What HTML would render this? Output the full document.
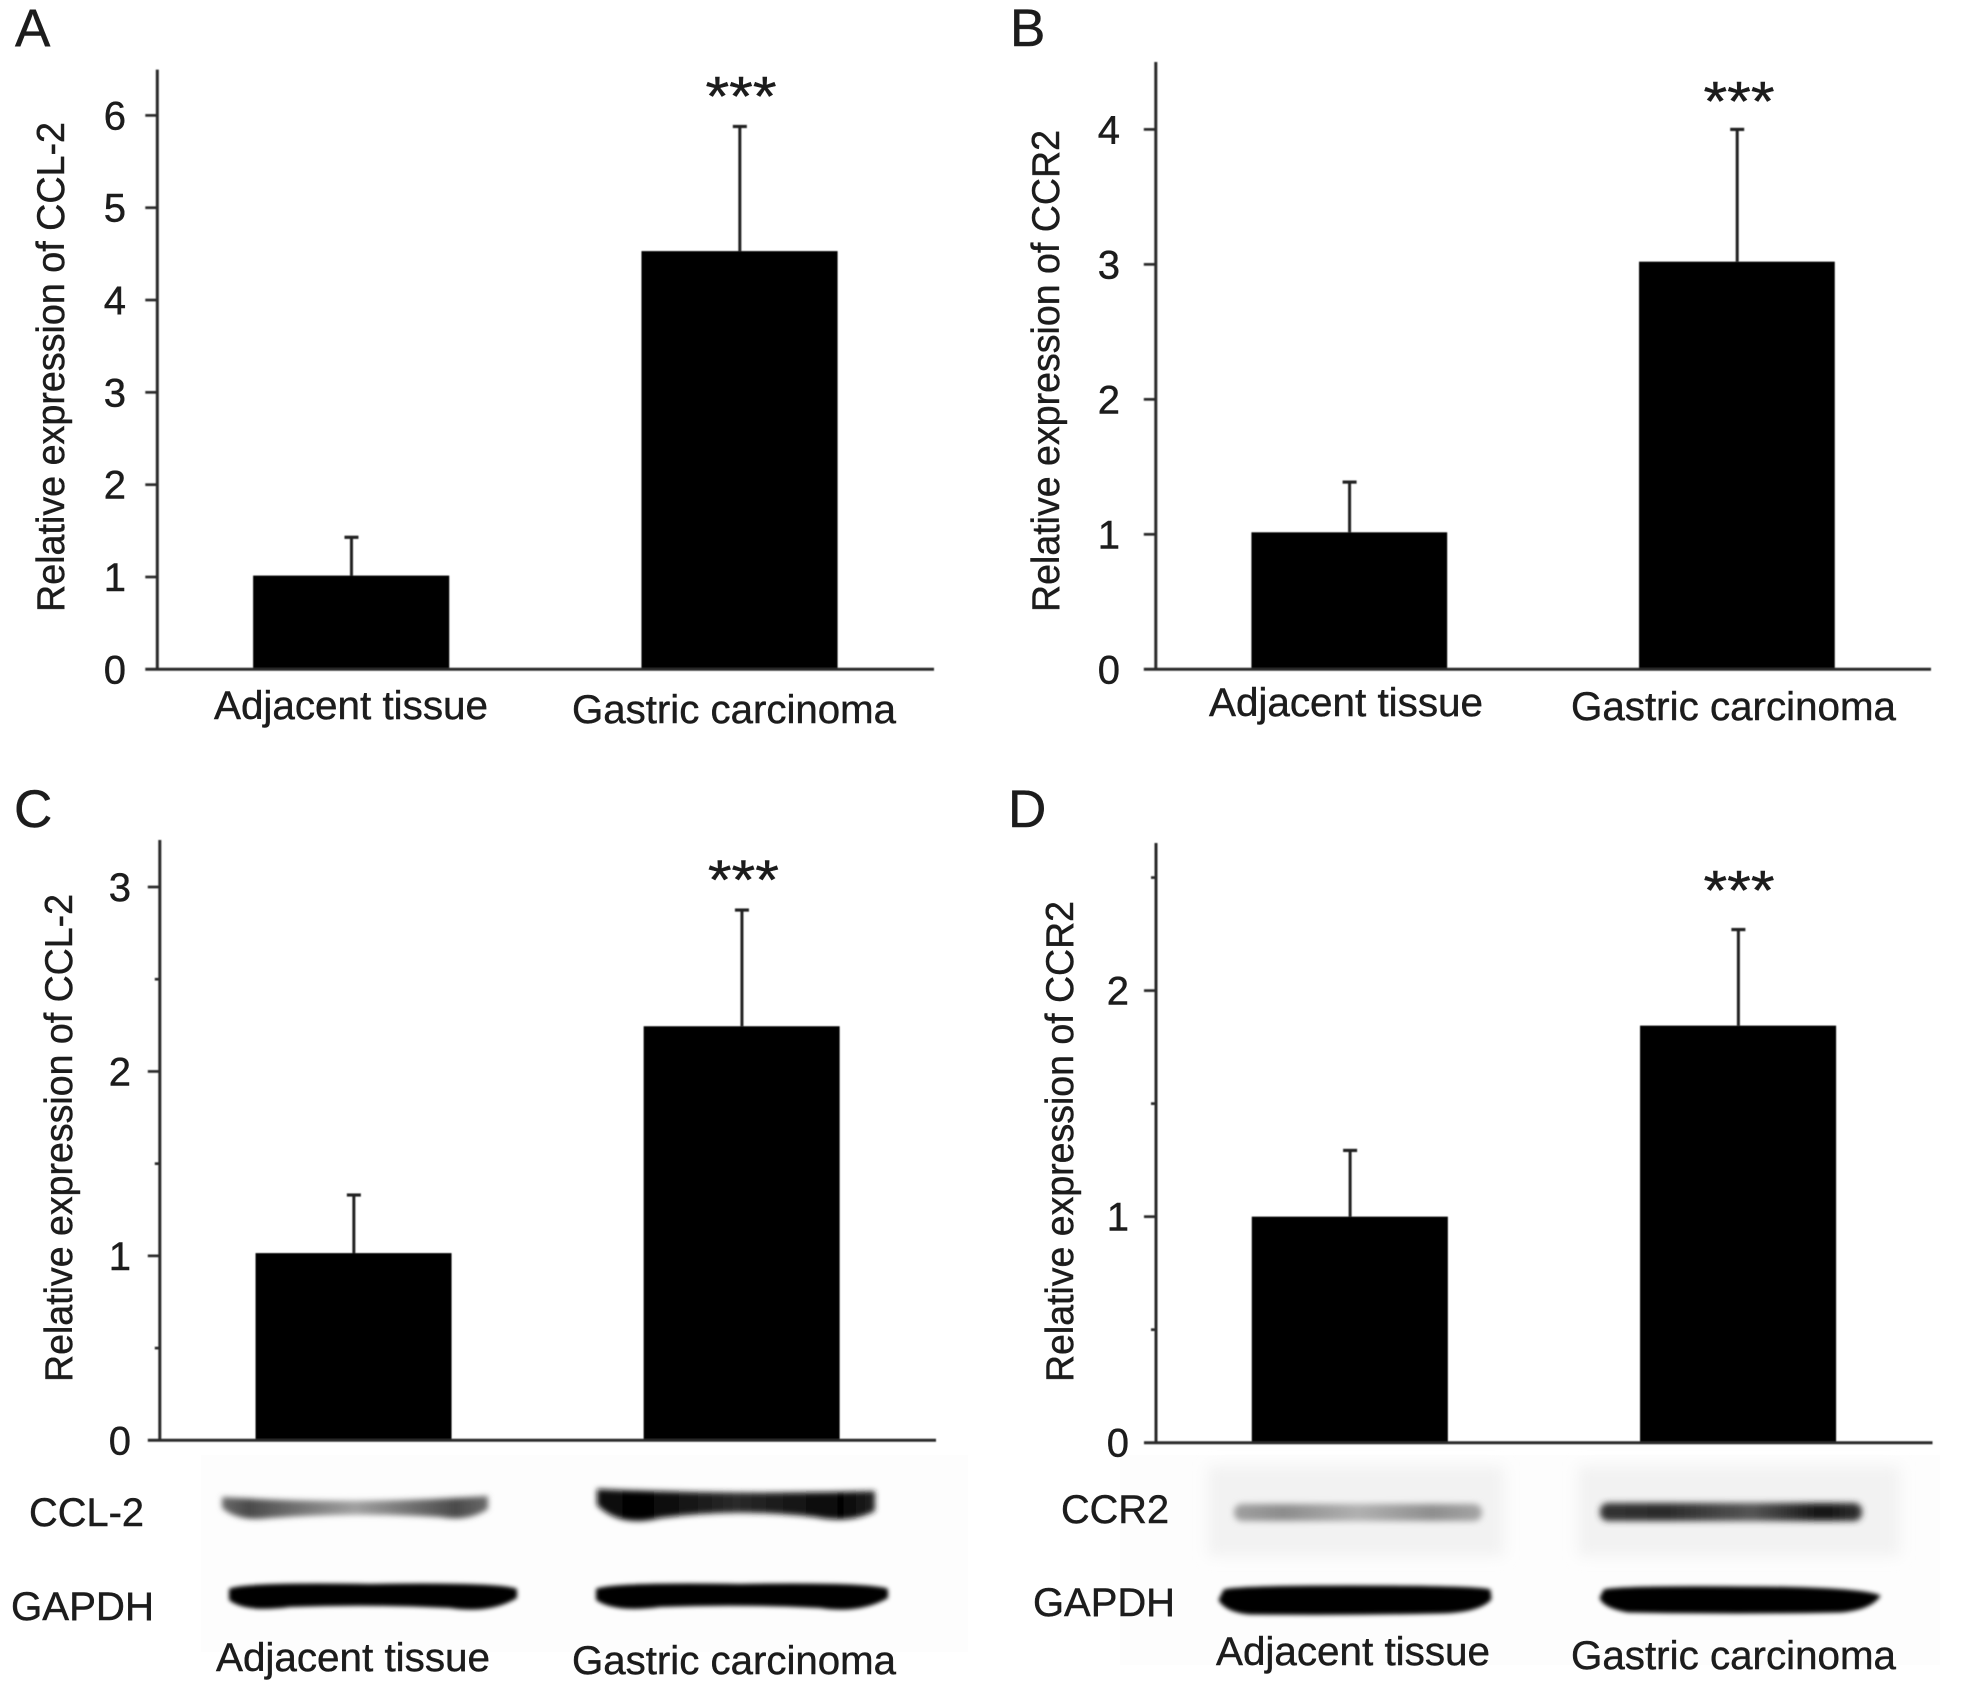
<!DOCTYPE html>
<html lang="en">
<head>
<meta charset="utf-8">
<title>Relative expression of CCL-2 and CCR2</title>
<style>
html,body{margin:0;padding:0;background:#fff}
svg{display:block}
text{font-family:"Liberation Sans",Arial,sans-serif;fill:#1c1c1c;stroke:#1c1c1c;stroke-width:.45}
</style>
</head>
<body>
<svg id="figure" xmlns="http://www.w3.org/2000/svg" width="1972" height="1692" viewBox="0 0 1972 1692">
  <defs>
    <filter id="soft" x="-5%" y="-5%" width="110%" height="110%"><feGaussianBlur stdDeviation="0.55"/></filter>
    <filter id="bandblur" x="-10%" y="-60%" width="120%" height="220%"><feGaussianBlur stdDeviation="3.2"/></filter>
    <filter id="cclblur" x="-10%" y="-60%" width="120%" height="220%"><feGaussianBlur stdDeviation="2.8"/></filter>
    <filter id="gapdhblur" x="-10%" y="-60%" width="120%" height="220%"><feGaussianBlur stdDeviation="2.2"/></filter>
    <filter id="bgblur" x="-10%" y="-20%" width="120%" height="140%"><feGaussianBlur stdDeviation="7"/></filter>
    <linearGradient id="grad-ccl2-adj" x1="0" x2="1" y1="0" y2="0">
      <stop offset="0" stop-color="#6a6a6a"/><stop offset="0.1" stop-color="#4a4a4a"/><stop offset="0.5" stop-color="#a0a0a0"/><stop offset="0.88" stop-color="#4a4a4a"/><stop offset="1" stop-color="#6a6a6a"/>
    </linearGradient>
    <linearGradient id="grad-ccl2-gas" x1="0" x2="1" y1="0" y2="0">
      <stop offset="0" stop-color="#111"/><stop offset="0.15" stop-color="#000"/><stop offset="0.5" stop-color="#2a2a2a"/><stop offset="0.88" stop-color="#050505"/><stop offset="1" stop-color="#222"/>
    </linearGradient>
    <linearGradient id="grad-ccr2-adj" x1="0" x2="1" y1="0" y2="0">
      <stop offset="0" stop-color="#a0a0a0"/><stop offset="0.2" stop-color="#8c8c8c"/><stop offset="0.5" stop-color="#b0b0b0"/><stop offset="0.8" stop-color="#8e8e8e"/><stop offset="1" stop-color="#a5a5a5"/>
    </linearGradient>
    <linearGradient id="grad-ccr2-gas" x1="0" x2="1" y1="0" y2="0">
      <stop offset="0" stop-color="#333"/><stop offset="0.25" stop-color="#2a2a2a"/><stop offset="0.58" stop-color="#555"/><stop offset="0.85" stop-color="#111"/><stop offset="1" stop-color="#333"/>
    </linearGradient>
  </defs>

  <g id="blots">
    <rect x="201" y="1455" width="767" height="197" fill="#fdfdfd"/>
    <g filter="url(#cclblur)">
      <path d="M222 1497 Q350 1505 488 1496 L488 1509 Q468 1522 440 1517 Q350 1512 270 1518 Q238 1522 222 1508 Z" fill="url(#grad-ccl2-adj)"/>
      <path d="M597 1489 Q735 1495 875 1491 L875 1511 Q850 1524 815 1517 Q735 1508 660 1518 Q620 1528 597 1505 Z" fill="url(#grad-ccl2-gas)"/>
    </g>
    <g filter="url(#gapdhblur)">
      <path d="M229 1589 Q240 1582 370 1584 Q500 1582 517 1589 L517 1598 Q490 1614 450 1608 Q370 1604 290 1607 Q245 1613 229 1600 Z" fill="#000"/>
      <path d="M596 1589 Q610 1582 740 1584 Q870 1582 888 1589 L888 1598 Q860 1614 820 1608 Q740 1604 660 1607 Q615 1613 596 1600 Z" fill="#000"/>
    </g>
    <rect x="1120" y="1455" width="820" height="210" fill="#fdfdfd"/>
    <g filter="url(#bgblur)">
      <rect x="1208" y="1466" width="296" height="90" fill="#f2f2f2"/>
      <rect x="1578" y="1466" width="322" height="90" fill="#f2f2f2"/>
    </g>
    <g filter="url(#bandblur)">
      <rect x="1234" y="1504" width="248" height="17" rx="8" fill="url(#grad-ccr2-adj)"/>
      <rect x="1600" y="1503" width="262" height="18" rx="8" fill="url(#grad-ccr2-gas)"/>
    </g>
    <g filter="url(#gapdhblur)">
      <path d="M1224 1590 Q1234 1586 1350 1586 Q1480 1586 1490 1590 L1491 1599 Q1480 1612 1440 1613 Q1350 1615 1250 1614 Q1226 1612 1219 1600 Z" fill="#000" stroke="#000" stroke-width="1"/>
      <path d="M1604 1590 Q1620 1586 1740 1587 Q1860 1587 1880 1596 Q1870 1610 1840 1612 Q1740 1614 1628 1612 Q1604 1608 1600 1598 Z" fill="#000" stroke="#000" stroke-width="1"/>
    </g>
    <text x="29" y="1526" font-size="40" textLength="115" lengthAdjust="spacingAndGlyphs">CCL-2</text>
    <text x="11" y="1620" font-size="40" textLength="143" lengthAdjust="spacingAndGlyphs">GAPDH</text>
    <text x="1068" y="1523" font-size="40" textLength="108" lengthAdjust="spacingAndGlyphs" transform="translate(-7 0)">CCR2</text>
    <text x="1033" y="1616" font-size="40" textLength="142" lengthAdjust="spacingAndGlyphs">GAPDH</text>
  </g>

  <g id="charts"></g>
</svg>

<script>
// Panel A data
const categoriesA = ['Adjacent tissue', 'Gastric carcinoma'];
const meansA = [1.015, 4.53];
const errorsA = [0.415, 1.35];
const tickValuesA = [0, 1, 2, 3, 4, 5, 6];
const tickLabelsA = ['0', '1', '2', '3', '4', '5', '6'];

// Panel B data
const categoriesB = ['Adjacent tissue', 'Gastric carcinoma'];
const meansB = [1.015, 3.02];
const errorsB = [0.372, 0.98];
const tickValuesB = [0, 1, 2, 3, 4];
const tickLabelsB = ['0', '1', '2', '3', '4'];

// Panel C data
const categoriesC = ['Adjacent tissue', 'Gastric carcinoma'];
const meansC = [1.015, 2.245];
const errorsC = [0.315, 0.63];
const tickValuesC = [0, 0.5, 1, 1.5, 2, 2.5, 3];
const tickLabelsC = ['0', '', '1', '', '2', '', '3'];

// Panel D data
const categoriesD = ['Adjacent tissue', 'Gastric carcinoma'];
const meansD = [1.0, 1.845];
const errorsD = [0.293, 0.425];
const tickValuesD = [0, 0.5, 1, 1.5, 2, 2.5];
const tickLabelsD = ['0', '', '1', '', '2', ''];

const SVG_NS = 'http://www.w3.org/2000/svg';
const root = document.getElementById('charts');

function make(tag, attrs, parent, content) {
  const el = document.createElementNS(SVG_NS, tag);
  for (const k in attrs) el.setAttribute(k, attrs[k]);
  if (content !== undefined) el.textContent = content;
  parent.appendChild(el);
  return el;
}

function slug(s) {
  return String(s).toLowerCase().replace(/[^a-z0-9]+/g, '-');
}

function drawPanel(p) {
  const group = make('g', {}, root);
  
  
  const lines = make('g', { filter: 'url(#soft)' }, group);
  
  

  const yScale = v => p.y0 - (v - p.vMin) * (p.y0 - p.y1) / (p.v1 - p.vMin);
  const band = (p.xRight - p.xAxis) / p.categories.length;
  const xScale = i => p.xAxis + (i + 0.5) * band;
  const barW = band * 0.505;

  const letter = make('text', { x: p.letterX, y: p.letterY, 'font-size': 53 }, group, p.id);
  
  

  // bars
  p.means.forEach((m, i) => {
    const top = yScale(m);
    const bar = make('rect', { x: xScale(i) - barW / 2 - 0.3, y: top, width: barW, height: p.y0 - top, fill: '#000' }, lines);
    
    
    const errTop = yScale(m + p.errors[i]);
    const stem = make('line', { x1: xScale(i), x2: xScale(i), y1: top, y2: errTop, stroke: '#222', 'stroke-width': 3 }, lines);
    
    
    const cap = make('line', { x1: xScale(i) - 7, x2: xScale(i) + 7, y1: errTop, y2: errTop, stroke: '#222', 'stroke-width': 3.2 }, lines);
    
    
  });

  // axes
  const yAxis = make('line', { x1: p.xAxis, x2: p.xAxis, y1: p.yTop, y2: p.y0 + 1, stroke: '#2c2c2c', 'stroke-width': 3 }, lines);
  
  
  const xAxis = make('line', { x1: p.xAxis - 12, x2: p.xRight, y1: p.y0, y2: p.y0, stroke: '#2c2c2c', 'stroke-width': 3 }, lines);
  
  

  // ticks
  p.tickValues.forEach((v, i) => {
    const y = yScale(v);
    const label = p.tickLabels[i];
    if (v !== p.vMin) {
      const len = label === '' ? 5 : 12;
      const tick = make('line', { x1: p.xAxis - len, x2: p.xAxis, y1: y, y2: y, stroke: '#2c2c2c', 'stroke-width': 2.7 }, lines);
      
      
    }
    if (label !== '') {
      const t = make('text', { x: p.tickRight, y: y + 14, 'font-size': 40, 'text-anchor': 'end' }, group, label);
      
      
    }
  });

  // y title
  const yt = make('text', {
    transform: 'translate(' + p.yTitleX + ' ' + p.yTitleBottom + ') rotate(-90)',
    'font-size': 39,
    textLength: p.yTitleLen,
    lengthAdjust: 'spacingAndGlyphs'
  }, group, p.yTitle);
  
  

  // category labels
  p.categories.forEach((c, i) => {
    const t = make('text', {
      x: p.catX[i], y: p.catY[i], 'font-size': 40,
      textLength: p.catLen[i], lengthAdjust: 'spacingAndGlyphs'
    }, group, c);
    
    
  });

  // significance
  const s = make('text', {
    x: p.starX, y: p.starY + 26, 'font-size': 56, 'text-anchor': 'middle',
    textLength: 71, lengthAdjust: 'spacingAndGlyphs', 'stroke-width': 1
  }, group, '***');
  
  
}

drawPanel({
  id: 'A', categories: categoriesA, means: meansA, errors: errorsA,
  tickValues: tickValuesA, tickLabels: tickLabelsA,
  xAxis: 157.3, xRight: 934, yTop: 69.6, y0: 669.3, vMin: 0, v1: 6, y1: 115.4,
  tickRight: 126, letterX: 15, letterY: 46,
  yTitle: 'Relative expression of CCL-2', yTitleX: 64, yTitleBottom: 612, yTitleLen: 490,
  catX: [214, 572], catY: [719, 723], catLen: [274, 324],
  starX: 741, starY: 89.6
});
drawPanel({
  id: 'B', categories: categoriesB, means: meansB, errors: errorsB,
  tickValues: tickValuesB, tickLabels: tickLabelsB,
  xAxis: 1155.8, xRight: 1931, yTop: 62, y0: 669.3, vMin: 0, v1: 4, y1: 129.4,
  tickRight: 1120, letterX: 1010, letterY: 46,
  yTitle: 'Relative expression of CCR2', yTitleX: 1059, yTitleBottom: 612, yTitleLen: 482,
  catX: [1209, 1571], catY: [716, 720], catLen: [274, 325],
  starX: 1739, starY: 94.5
});
drawPanel({
  id: 'C', categories: categoriesC, means: meansC, errors: errorsC,
  tickValues: tickValuesC, tickLabels: tickLabelsC,
  xAxis: 159.8, xRight: 936, yTop: 840, y0: 1440.3, vMin: 0, v1: 3, y1: 887,
  tickRight: 131, letterX: 14, letterY: 827,
  yTitle: 'Relative expression of CCL-2', yTitleX: 72, yTitleBottom: 1382, yTitleLen: 488,
  catX: [216, 572], catY: [1671, 1674], catLen: [274, 324],
  starX: 743.4, starY: 873
});
drawPanel({
  id: 'D', categories: categoriesD, means: meansD, errors: errorsD,
  tickValues: tickValuesD, tickLabels: tickLabelsD,
  xAxis: 1156, xRight: 1932.5, yTop: 843, y0: 1442.7, vMin: 0, v1: 2, y1: 990.6,
  tickRight: 1129, letterX: 1008, letterY: 827,
  yTitle: 'Relative expression of CCR2', yTitleX: 1073, yTitleBottom: 1382, yTitleLen: 481,
  catX: [1216, 1571], catY: [1665, 1669], catLen: [274, 325],
  starX: 1739, starY: 883.5
});
</script>
</body>
</html>
